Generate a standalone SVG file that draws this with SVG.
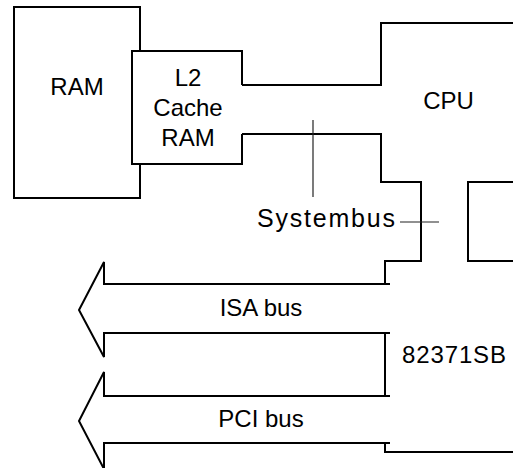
<svg xmlns="http://www.w3.org/2000/svg" width="513" height="468" viewBox="0 0 513 468">
  <style>
    .edge { fill: none; stroke: #000; stroke-width: 2; stroke-linejoin: miter; stroke-linecap: butt; }
    .box { fill: #fff; stroke: #000; stroke-width: 2; }
    .tick { fill: none; stroke: #222; stroke-width: 1.2; }
    .lbl { font-family: "Liberation Sans", Arial, sans-serif; font-size: 24px; fill: #000; }
    .mid { text-anchor: middle; }
  </style>
  <rect width="513" height="468" fill="#fff"/>

  <!-- main memory -->
  <g id="ram">
    <rect class="box" x="14" y="7" width="126" height="191"/>
    <text class="lbl mid" x="77" y="95">RAM</text>
  </g>

  <!-- second level cache, overlapping the RAM edge -->
  <g id="l2-cache">
    <path class="box" d="M242,85 V51 H132 V164 H242 V134"/>
    <text class="lbl mid" x="188" y="86">L2</text>
    <text class="lbl mid" x="188" y="116">Cache</text>
    <text class="lbl mid" x="188" y="146">RAM</text>
  </g>

  <!-- processor -->
  <g id="cpu">
    <path class="edge" d="M242,85 H381 V23 H513"/>
    <text class="lbl mid" x="448.5" y="109">CPU</text>
  </g>

  <!-- small block at the right edge -->
  <g id="side-block">
    <path class="edge" d="M513,182 H468 V261 H513"/>
  </g>

  <!-- PCI/ISA bridge -->
  <g id="bridge-82371sb">
    <path class="edge" d="M390,333 H385 V396 H390"/>
    <text class="lbl" x="402" y="363" textLength="104" lengthAdjust="spacing">82371SB</text>
  </g>

  <g id="connectors">
    <!-- system bus outline -->
    <path class="edge" d="M242,134 H381 V182 H421 V261 H385 V284"/>
    <!-- ISA bus arrow -->
    <path class="edge" d="M390,284 H104 V262 L79,310 L104,357 V333 H390"/>
    <!-- PCI bus arrow -->
    <path class="edge" d="M390,396 H104 V372 L79,421 L104,469"/>
    <path class="edge" d="M104,469 V443 H390"/>
    <path class="edge" d="M385,443 V452 H513"/>
    <!-- label leaders -->
    <path class="tick" d="M313,120 V197"/>
    <path class="tick" d="M400,222 H439"/>
  </g>

  <g id="bus-labels">
    <text class="lbl" x="257" y="227" font-size="25" textLength="138" lengthAdjust="spacing" style="font-size:25px">Systembus</text>
    <text class="lbl mid" x="261" y="316">ISA bus</text>
    <text class="lbl mid" x="261" y="427">PCI bus</text>
  </g>
</svg>
